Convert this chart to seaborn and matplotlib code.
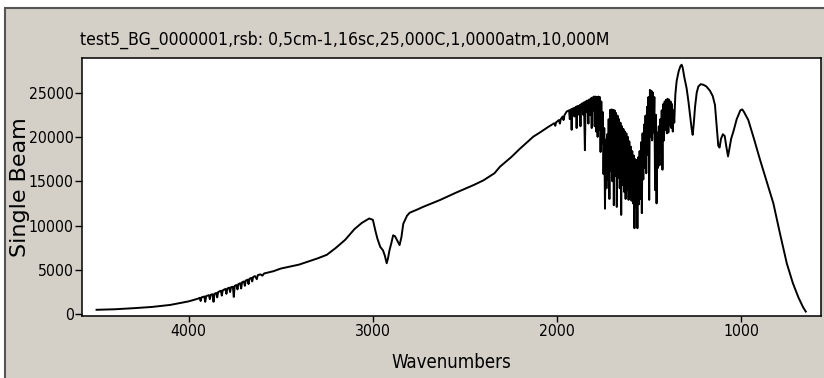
import matplotlib
matplotlib.use("Agg")
import matplotlib.pyplot as plt
from matplotlib.patches import Rectangle
from matplotlib import font_manager
import seaborn as sns
import numpy as np
import pandas as pd

# ---------------- data ----------------
wn_start = [4500, 4400, 4300, 4200, 4100, 4000, 3950]
val_start = [500, 560, 680, 820, 1050, 1450, 1750]

wn_oh = [3940, 3935, 3930, 3915, 3910, 3905, 3890, 3885, 3880, 3870, 3865, 3860,
         3850, 3845, 3840, 3825, 3820, 3815, 3800, 3795, 3790, 3780, 3775, 3770,
         3760, 3755, 3750, 3740, 3735, 3730, 3720, 3715, 3710, 3700, 3695, 3690,
         3680, 3675, 3670, 3660, 3655, 3650, 3640, 3630, 3625, 3610, 3600, 3590,
         3570, 3540]
val_oh = [1850, 1500, 1900, 2000, 1400, 2050, 2150, 1700, 2200, 2250, 1400, 2300,
          2400, 1900, 2500, 2650, 2100, 2700, 2850, 2300, 2900, 3000, 2500, 3050,
          3100, 1950, 3200, 3300, 2800, 3400, 3500, 2900, 3600, 3700, 3200, 3800,
          3900, 3400, 4000, 4100, 3700, 4200, 4300, 3950, 4400, 4500, 4350, 4600,
          4700, 4850]

wn_mid = [3500, 3400, 3300, 3250, 3200, 3150, 3100, 3060, 3020, 3000, 2985, 2975,
          2960, 2945, 2935, 2925, 2918, 2910, 2900, 2890, 2880, 2870, 2855, 2845,
          2835, 2815, 2800, 2760, 2726, 2636, 2550, 2450, 2400, 2370, 2340, 2310,
          2250, 2200, 2129, 2093, 2050, 2015, 2010, 2005, 1990, 1985, 1980, 1970,
          1965, 1960, 1948]
val_mid = [5150, 5600, 6300, 6700, 7500, 8400, 9600, 10300, 10800, 10650, 9300, 8500,
           7600, 7200, 6600, 5750, 6300, 7200, 8000, 8900, 8800, 8400, 7800, 8700,
           10200, 11100, 11450, 11800, 12120, 12880, 13700, 14600, 15100, 15500, 15900, 16640,
           17700, 18700, 20030, 20500, 21100, 21550, 21250, 21650, 21900, 21500, 22000, 22300,
           21900, 22450, 22860]

wn_sparse = [1935, 1931, 1927, 1924, 1921, 1918, 1910, 1906, 1902, 1897, 1894, 1891,
             1885, 1881, 1877, 1873, 1869, 1862, 1858, 1854, 1849, 1845, 1840, 1836,
             1830, 1826, 1821, 1817, 1812, 1808, 1804]
val_sparse = [23000, 22000, 23050, 23100, 20800, 23150, 23250, 22300, 23300, 23400, 21000, 23450,
              23500, 22500, 23600, 21200, 23700, 23800, 22500, 23900, 18500, 24000, 22800, 24100,
              21500, 24200, 22500, 24350, 21000, 24450, 23000]

wn_band = [1800, 1796, 1792, 1788, 1784, 1780, 1776, 1772, 1768, 1764, 1760, 1756,
           1752, 1748, 1744, 1740, 1736, 1732, 1728, 1724, 1720, 1716, 1712, 1708,
           1704, 1700, 1696, 1692, 1688, 1684, 1680, 1676, 1672, 1668, 1664, 1660,
           1656, 1652, 1648, 1644, 1640, 1636, 1632, 1628, 1624, 1620, 1616, 1612,
           1608, 1604, 1600, 1596, 1592, 1588, 1584, 1580, 1576, 1572, 1568, 1564,
           1560, 1556, 1552, 1548, 1544, 1540, 1536, 1532, 1528, 1524, 1520, 1516,
           1512, 1508, 1504, 1500, 1496, 1492, 1488, 1484, 1480, 1476, 1472, 1468,
           1464, 1460, 1456, 1452, 1448, 1444, 1440, 1436, 1432, 1428, 1424, 1420,
           1416, 1412, 1408, 1404, 1400, 1396, 1392, 1388, 1384, 1380, 1376, 1372,
           1368, 1364]
val_band = [24550, 21200, 24550, 20600, 24500, 20000, 24550, 20800, 24500, 18300, 24000, 19200,
            22800, 15800, 21000, 11900, 19700, 14200, 20300, 15200, 22000, 13000, 23050, 16200,
            23100, 15000, 23050, 12300, 23000, 15600, 22700, 12100, 22400, 15400, 22000, 14200,
            21600, 11200, 21200, 14600, 20900, 13800, 20600, 13000, 20400, 14000, 20000, 12900,
            19500, 13200, 18900, 12800, 18400, 12500, 17900, 9700, 17500, 12000, 17400, 9700,
            17700, 12400, 18400, 13000, 19400, 11400, 20400, 15200, 21400, 16500, 22400, 15900,
            23400, 18000, 24500, 12900, 25300, 20000, 25200, 19600, 25000, 20500, 24500, 14000,
            22500, 12500, 20500, 16500, 21200, 16800, 22000, 18200, 23000, 16300, 23700, 19600,
            24000, 20800, 24200, 20400, 24300, 20500, 24200, 21300, 24000, 21000, 23700, 20600,
            23000, 21600]

wn_end = [1358, 1351, 1340, 1330, 1324, 1318, 1310, 1297, 1287, 1279, 1270, 1264,
          1258, 1251, 1242, 1233, 1220, 1206, 1190, 1170, 1155, 1143, 1135, 1125,
          1118, 1110, 1100, 1090, 1082, 1072, 1066, 1055, 1043, 1025, 1005, 995,
          985, 962, 930, 898, 860, 826, 790, 753, 720, 690, 665, 650]
val_end = [24800, 26300, 27400, 28000, 28140, 27800, 26800, 25500, 24000, 22600, 21000, 20230,
           21500, 23420, 25000, 25690, 25950, 25880, 25700, 25200, 24600, 23600, 21500, 19000,
           18800, 19800, 20300, 20100, 19000, 17800, 18500, 19800, 20600, 22000, 23000, 23100,
           22800, 21900, 19700, 17400, 14800, 12510, 9100, 5730, 3500, 1900, 800, 300]

title_text = "test5_BG_0000001,rsb: 0,5cm-1,16sc,25,000C,1,0000atm,10,000M"
x_label = "Wavenumbers"
y_label = "Single Beam"
x_ticks = [4000, 3000, 2000, 1000]
y_ticks = [0, 5000, 10000, 15000, 20000, 25000]

# ---------------- assemble ----------------
df = pd.DataFrame({
    "wn": wn_start + wn_oh + wn_mid + wn_sparse + wn_band + wn_end,
    "val": val_start + val_oh + val_mid + val_sparse + val_band + val_end,
})

W, H = 824, 378
fig = plt.figure(figsize=(W / 100, H / 100), dpi=100)
fig.patch.set_facecolor("white")
panel = Rectangle((5 / W, -0.05), (W - 5) / W + 0.05, (H - 8) / H + 0.05,
                  transform=fig.transFigure, facecolor="#d4d0c8",
                  edgecolor="#555555", linewidth=1.5, zorder=-10)
fig.patches.append(panel)

# a condensed face if one is installed
cond = None
for f in font_manager.fontManager.ttflist:
    if f.name in ("Liberation Sans Narrow", "DejaVu Sans") and str(f.stretch) in ("condensed", "semi-condensed", "extra-condensed", "600", "500", "300") and f.style == "normal" and f.weight in (400, "normal", "regular"):
        cond = f.fname
        break
if cond is None:
    for f in font_manager.fontManager.ttflist:
        if ("Condensed" in f.fname or "Narrow" in f.fname) and "Bold" not in f.fname and "Oblique" not in f.fname and "Italic" not in f.fname:
            cond = f.fname
            break
if cond is not None:
    nfp = dict(fontproperties=font_manager.FontProperties(fname=cond))
    scale = 1.0
else:
    nfp = dict(family=["DejaVu Sans"])
    scale = 0.9

ax = fig.add_axes([82 / W, 1 - 316 / H, (820.7 - 82) / W, (316 - 58) / H])
ax.set_facecolor("white")
sns.lineplot(data=df, x="wn", y="val", sort=False, estimator=None,
             color="black", linewidth=1.4, ax=ax)

ax.set_xlim(4579, 569)
ax.set_ylim(-200, 28900)
ax.set_xticks(x_ticks)
ax.set_yticks(y_ticks)
ax.set_xticklabels([str(t) for t in x_ticks])
ax.set_yticklabels([str(t) for t in y_ticks])
for lab in ax.get_xticklabels() + ax.get_yticklabels():
    if cond is not None:
        lab.set_fontproperties(font_manager.FontProperties(fname=cond))
    lab.set_fontsize(11.3 * scale)
ax.tick_params(axis="y", direction="out", length=5, width=1, pad=1, colors="black")
ax.tick_params(axis="x", direction="out", length=4, width=1, pad=2, colors="black")
ax.set_xlabel("")
ax.set_ylabel("")
for s in ax.spines.values():
    s.set_color("black")
    s.set_linewidth(1.1)

t1 = fig.text(80 / W, 1 - 40 / H, title_text, ha="left", va="center", color="black", **nfp)
t1.set_fontsize(12.6 * scale)
t2 = fig.text(451 / W, 1 - 362 / H, x_label, ha="center", va="center", color="black", **nfp)
t2.set_fontsize(13.4 * scale)
fig.text(20 / W, 1 - 187 / H, y_label, ha="center", va="center", rotation=90,
         family=["DejaVu Sans"], fontsize=16, color="black")

fig.savefig("out.png", dpi=100, facecolor=fig.get_facecolor())
